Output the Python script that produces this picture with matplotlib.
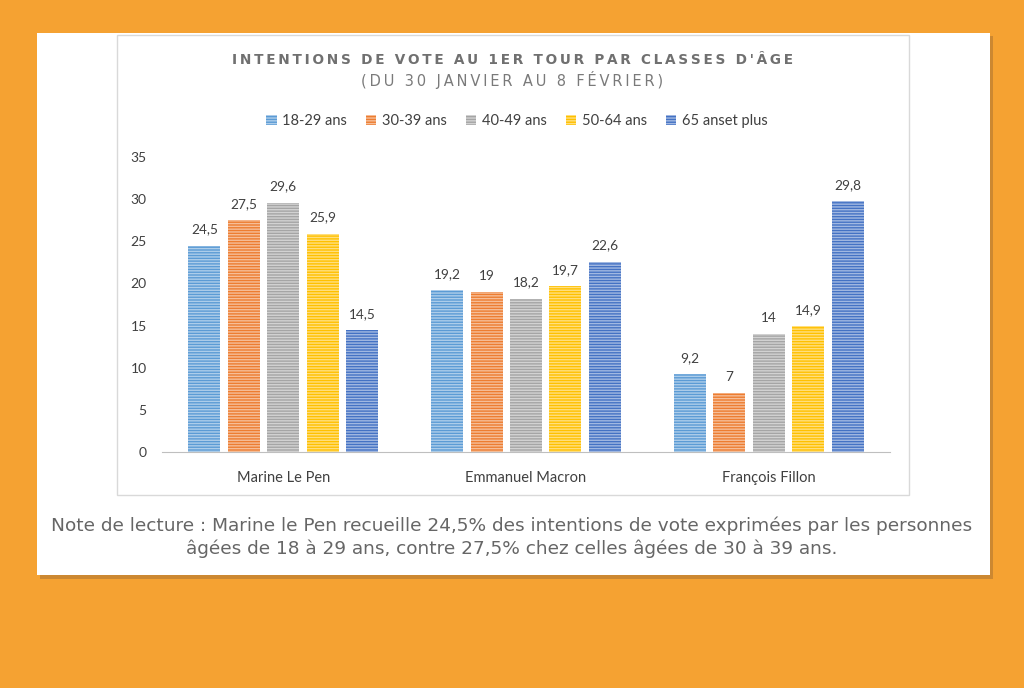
import numpy as np
import matplotlib
matplotlib.use("Agg")
import matplotlib.pyplot as plt
from matplotlib.patches import Rectangle

candidates = ["Marine Le Pen", "Emmanuel Macron", "François Fillon"]
age_groups = ["18-29 ans", "30-39 ans", "40-49 ans", "50-64 ans", "65 anset plus"]
values = {
    "18-29 ans": [24.5, 19.2, 9.2],
    "30-39 ans": [27.5, 19, 7],
    "40-49 ans": [29.6, 18.2, 14],
    "50-64 ans": [25.9, 19.7, 14.9],
    "65 anset plus": [14.5, 22.6, 29.8],
}
labels = {
    "18-29 ans": ["24,5", "19,2", "9,2"],
    "30-39 ans": ["27,5", "19", "7"],
    "40-49 ans": ["29,6", "18,2", "14"],
    "50-64 ans": ["25,9", "19,7", "14,9"],
    "65 anset plus": ["14,5", "22,6", "29,8"],
}
colors = ["#5B9BD5", "#ED7D31", "#A5A5A5", "#FFC000", "#4472C4"]

W, H = 1024, 688
fig = plt.figure(figsize=(W / 100, H / 100), dpi=100)
fig.patch.set_facecolor("#F5A232")

# white card with a small shadow
fig.patches.append(Rectangle((40 / W, 1 - 579 / H), 953 / W, 543 / H,
                             transform=fig.transFigure, facecolor="#9A6A30",
                             alpha=0.45, edgecolor="none", zorder=0))
fig.patches.append(Rectangle((37 / W, 1 - 575 / H), 953 / W, 542 / H,
                             transform=fig.transFigure, facecolor="white",
                             edgecolor="none", zorder=1))
# chart frame
fig.patches.append(Rectangle((117 / W, 1 - 495 / H), 792 / W, 460 / H,
                             transform=fig.transFigure, facecolor="white",
                             edgecolor="#D9D9D9", lw=1, zorder=2))

ax = fig.add_axes([162 / W, 1 - 452 / H, 728 / W, 295 / H])
ax.set_zorder(3)
ax.patch.set_alpha(0)

x = np.arange(len(candidates))
pitch = 0.1626
width = 0.132
for i, (grp, col) in enumerate(zip(age_groups, colors)):
    pos = x + (i - 2) * pitch
    bars = ax.bar(pos, values[grp], width, color=col, edgecolor=(1, 1, 1, 0.5),
                  linewidth=0, hatch="------", label=grp)
    for b, lab in zip(bars, labels[grp]):
        ax.text(b.get_x() + b.get_width() / 2, b.get_height() + 1.2, lab,
                ha="center", va="bottom", fontsize=9.8, color="#404040",
                family="Lato")

ax.set_xlim(-0.5, 2.5)
ax.set_ylim(0, 35)
ax.set_yticks(range(0, 36, 5))
ax.set_xticks(x)
ax.set_xticklabels(candidates, family="Lato", fontsize=10.5, color="#404040")
ax.tick_params(axis="y", length=0, pad=11, labelsize=10, labelcolor="#404040")
ax.tick_params(axis="x", length=0, pad=14)
for lab in ax.get_yticklabels():
    lab.set_family("Lato")
for s in ["top", "right", "left"]:
    ax.spines[s].set_visible(False)
ax.spines["bottom"].set_color("#BFBFBF")


def spaced(s):
    return "\u2009 \u2009".join("\u2009".join(w) for w in s.split(" "))


title = "INTENTIONS DE VOTE AU 1ER TOUR PAR CLASSES D'ÂGE"
sub = "(DU 30 JANVIER AU 8 FÉVRIER)"
fig.text(0.5, 1 - 60 / H, spaced(title), ha="center", va="center", fontsize=9.8,
         color="#707070", fontweight="bold", zorder=5)
fig.text(0.5, 1 - 80 / H, spaced(sub), ha="center", va="center", fontsize=10.5,
         color="#7A7A7A", zorder=5)

handles, lbls = ax.get_legend_handles_labels()
leg = fig.legend(handles, lbls, loc="center", bbox_to_anchor=(0.505, 1 - 121 / H),
                 ncol=5, frameon=False, handlelength=0.7, handleheight=0.7,
                 handletextpad=0.4, columnspacing=1.3,
                 prop={"family": "Lato", "size": 10.5})
for t in leg.get_texts():
    t.set_color("#404040")

note = ("Note de lecture : Marine le Pen recueille 24,5% des intentions de vote exprimées par les personnes\n"
        "âgées de 18 à 29 ans, contre 27,5% chez celles âgées de 30 à 39 ans.")
fig.text(0.5, 1 - 537 / H, note, ha="center", va="center", fontsize=13.3,
         color="#666666", linespacing=1.3, zorder=5)

fig.savefig("out.png", dpi=100, facecolor=fig.get_facecolor())
